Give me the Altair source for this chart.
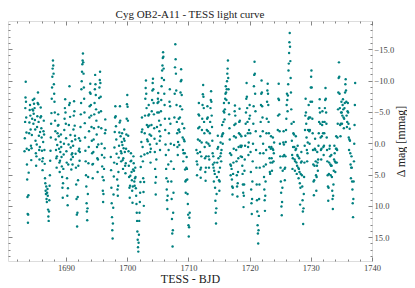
import altair as alt
import pandas as pd

# Delta mag [mmag] vs TESS BJD (sectors 14 and 15)
s14_orbit1 = [
    (1683.20, 1.3), (1683.25, -0.8), (1683.30, -3.4), (1683.33, -5.6), (1683.36, -7.3), (1683.40, -9.8),
    (1683.44, -6.6), (1683.48, -4.1), (1683.52, -1.7), (1683.56, 0.9), (1683.60, 3.4), (1683.64, 5.8),
    (1683.68, 8.6), (1683.72, 11.3), (1683.76, 12.7), (1683.80, 11.4), (1683.84, 8.3), (1683.88, 4.7),
    (1683.92, 1.1), (1683.96, -1.6), (1684.00, -3.3), (1684.05, -5.3), (1684.10, -6.1), (1684.15, -4.4),
    (1684.20, -2.2), (1684.25, 0.4), (1684.30, 2.7), (1684.35, 0.8), (1684.40, -1.3), (1684.45, -3.9),
    (1684.50, -5.4), (1684.55, -6.9), (1684.60, -5.2), (1684.65, -3.1), (1684.70, -4.7), (1684.75, -6.3),
    (1684.80, -7.1), (1684.85, -5.6), (1684.90, -3.7), (1684.95, -2.2), (1685.00, -0.4), (1685.05, 1.6),
    (1685.10, 3.6), (1685.15, 2.1), (1685.20, 0.2), (1685.25, -2.6), (1685.30, -4.3), (1685.35, -6.4),
    (1685.40, -8.1), (1685.45, -6.2), (1685.50, -3.4), (1685.55, -1.2), (1685.60, 1.1), (1685.65, 2.6),
    (1685.70, 0.6), (1685.75, -1.8), (1685.80, -4.1), (1685.85, -5.7), (1685.90, -4.3), (1685.95, -2.4),
    (1686.00, -0.9), (1686.05, 1.2), (1686.10, 2.9), (1686.15, 4.3), (1686.20, 2.4), (1686.25, -0.2),
    (1686.30, -1.9), (1686.35, -3.6), (1686.40, -1.4), (1686.45, 1.1), (1686.50, 3.3), (1686.55, 5.6),
    (1686.60, 6.4), (1686.65, 7.6), (1686.70, 8.1), (1686.75, 6.9), (1686.80, 8.9), (1686.85, 9.4),
    (1686.90, 7.9), (1686.95, 7.3), (1687.00, 8.4), (1687.05, 10.6), (1687.10, 11.7), (1687.15, 12.4),
    (1687.20, 10.9), (1687.25, 9.1), (1687.30, 6.8), (1687.35, 5.1), (1687.40, 2.8), (1687.45, 1.2),
    (1687.50, -0.9), (1687.55, -3.1), (1687.60, -4.8), (1687.65, -7.1), (1687.70, -8.9), (1687.75, -10.6),
    (1687.80, -11.9), (1687.85, -13.2), (1687.90, -12.4), (1687.95, -11.1), (1688.00, -9.4), (1688.05, -7.9),
    (1688.10, -6.6), (1688.15, -4.9), (1688.20, -3.6), (1688.25, -1.9), (1688.30, -0.6), (1688.35, 1.1),
    (1688.40, 2.4), (1688.45, 3.9), (1688.50, 2.1), (1688.55, 0.3), (1688.60, -1.6), (1688.65, -2.8),
    (1688.70, -4.6), (1688.75, -2.9), (1688.80, -1.1), (1688.85, 0.9), (1688.90, 3.1), (1688.95, 4.6),
    (1689.00, 2.8), (1689.05, 1.4), (1689.10, -0.2), (1689.15, -1.4), (1689.20, 0.6), (1689.25, 2.2),
    (1689.30, 3.7), (1689.35, 5.4), (1689.40, 7.1), (1689.45, 8.7), (1689.50, 6.4), (1689.55, 4.1),
    (1689.60, 1.8), (1689.65, 0.1), (1689.70, -2.1), (1689.75, -3.9), (1689.80, -5.6), (1689.85, -7.0),
    (1689.90, -4.9), (1689.95, -3.1), (1690.00, -0.8), (1690.05, 1.3), (1690.10, 3.1), (1690.15, 5.6),
    (1690.20, 8.4), (1690.25, 9.9), (1690.30, 7.2), (1690.35, 3.4), (1690.40, 0.2), (1690.45, -2.9),
    (1690.50, -6.1), (1690.55, -9.1), (1690.60, -6.4), (1690.65, -4.2), (1690.70, -1.3), (1690.75, 0.7),
    (1690.80, 2.6), (1690.85, 4.2), (1690.90, 1.8), (1690.95, -0.3), (1691.00, 1.6), (1691.05, 3.4),
    (1691.10, 2.2), (1691.15, 0.4), (1691.20, -2.2), (1691.25, -4.4), (1691.30, -6.7), (1691.35, -5.1),
    (1691.40, -2.8), (1691.45, -1.2), (1691.50, -0.6), (1691.55, 1.7), (1691.60, 3.9), (1691.65, 6.6),
    (1691.70, 8.9), (1691.75, 11.4), (1691.80, 13.3), (1691.85, 11.1), (1691.90, 8.6), (1691.95, 5.9),
    (1692.00, 3.6), (1692.05, 1.2), (1692.10, -0.8), (1692.15, 0.9), (1692.20, 2.8), (1692.25, 1.4),
    (1692.30, -0.4), (1692.35, -2.6), (1692.40, -4.6), (1692.45, -6.4), (1692.50, -8.6), (1692.55, -9.9),
    (1692.60, -11.4), (1692.65, -12.6), (1692.70, -13.2), (1692.75, -14.3), (1692.80, -12.9), (1692.85, -11.1),
    (1692.90, -8.9), (1692.95, -7.1), (1693.00, -4.9), (1693.05, -3.2), (1693.10, -0.9), (1693.15, 1.2),
    (1693.20, 2.9), (1693.25, 5.1), (1693.30, 6.9), (1693.35, 9.6), (1693.40, 10.9), (1693.45, 12.3),
    (1693.50, 10.4), (1693.55, 8.1), (1693.60, 5.4), (1693.65, 3.2), (1693.70, 0.6), (1693.75, -1.9),
    (1693.80, -4.1), (1693.85, -5.9), (1693.90, -8.1), (1693.95, -9.5), (1694.00, -7.9), (1694.05, -6.1),
    (1694.10, -4.4), (1694.15, -2.6), (1694.20, -0.4), (1694.25, 1.6), (1694.30, 3.4), (1694.35, 5.6),
    (1694.40, 3.3), (1694.45, 1.4), (1694.50, -0.6), (1694.55, -2.4), (1694.60, -4.6), (1694.65, -6.4),
    (1694.70, -8.6), (1694.75, -10.9), (1694.80, -9.4), (1694.85, -7.7), (1694.90, -5.4), (1694.95, -3.6),
    (1695.00, -1.4), (1695.05, 0.6), (1695.10, 2.4), (1695.15, 4.6), (1695.20, 2.6), (1695.25, 0.2),
    (1695.30, -2.6), (1695.35, -4.9), (1695.40, -7.2), (1695.45, -8.9), (1695.50, -10.1), (1695.55, -11.4),
    (1695.60, -9.6), (1695.65, -7.4), (1695.70, -5.1), (1695.75, -2.4), (1695.80, 0.1), (1695.85, 1.9),
    (1695.90, 3.7), (1695.95, 5.4), (1696.00, 7.6), (1696.05, 9.4), (1696.10, 8.1), (1696.15, 5.9),
    (1696.20, 4.1), (1696.25, 2.3), (1696.30, 0.8), (1696.35, -1.6), (1696.40, -3.8), (1696.45, -2.1),
]

s14_orbit2 = [
    (1697.30, 2.2), (1697.35, 4.3), (1697.40, 7.1), (1697.45, 9.6), (1697.50, 11.8), (1697.55, 13.9),
    (1697.60, 15.2), (1697.65, 12.8), (1697.70, 10.3), (1697.75, 8.2), (1697.80, 5.3), (1697.85, 3.1),
    (1697.90, 0.7), (1697.95, -1.8), (1698.00, -4.1), (1698.05, -5.9), (1698.10, -4.3), (1698.15, -2.7),
    (1698.20, -0.6), (1698.25, 1.7), (1698.30, 3.3), (1698.35, 5.8), (1698.40, 7.4), (1698.45, 8.4),
    (1698.50, 6.8), (1698.55, 4.6), (1698.60, 2.3), (1698.65, 0.4), (1698.70, -1.7), (1698.75, -3.3),
    (1698.80, -5.9), (1698.85, -3.6), (1698.90, -1.1), (1698.95, 1.3), (1699.00, 2.9), (1699.05, 1.6),
    (1699.10, -0.2), (1699.15, -1.6), (1699.20, 0.3), (1699.25, 2.7), (1699.30, 4.1), (1699.35, 2.4),
    (1699.40, 0.8), (1699.45, -0.7), (1699.50, -2.2), (1699.55, -0.4), (1699.60, 1.4), (1699.65, 3.6),
    (1699.70, 4.8), (1699.75, 3.2), (1699.80, 0.9), (1699.85, -1.4), (1699.90, -3.9), (1699.95, -6.2),
    (1700.00, -7.7), (1700.05, -5.8), (1700.10, -3.6), (1700.15, -1.2), (1700.20, 1.3), (1700.25, 3.6),
    (1700.30, 5.4), (1700.35, 7.1), (1700.40, 8.7), (1700.45, 6.8), (1700.50, 5.2), (1700.55, 2.9),
    (1700.60, 1.6), (1700.65, 2.8), (1700.70, 4.6), (1700.75, 5.9), (1700.80, 7.6), (1700.85, 9.5),
    (1700.90, 6.9), (1700.95, 4.2), (1701.00, 2.1), (1701.05, 3.2), (1701.10, 4.4), (1701.15, 6.1),
    (1701.20, 6.8), (1701.25, 5.6), (1701.30, 3.9), (1701.35, 5.4), (1701.40, 7.2), (1701.45, 8.4),
    (1701.50, 9.7), (1701.55, 11.1), (1701.60, 12.4), (1701.65, 14.1), (1701.70, 15.4), (1701.75, 16.6),
    (1701.80, 17.3), (1701.85, 15.9), (1701.90, 14.6), (1701.95, 12.4), (1702.00, 11.1), (1702.05, 9.4),
    (1702.10, 7.9), (1702.15, 6.2), (1702.20, 3.8), (1702.25, 2.1), (1702.30, -0.2), (1702.35, -1.8),
    (1702.40, -4.1), (1702.45, -2.2), (1702.50, 0.6), (1702.55, 2.9), (1702.60, 5.6), (1702.65, 7.8),
    (1702.70, 10.0), (1702.75, 6.2), (1702.80, 1.8), (1702.85, -1.6), (1702.90, -4.4), (1702.95, -7.1),
    (1703.00, -8.8), (1703.05, -10.0), (1703.10, -7.9), (1703.15, -5.6), (1703.20, -2.9), (1703.25, -0.6),
    (1703.30, 1.6), (1703.35, -0.3), (1703.40, -2.6), (1703.45, -4.4), (1703.50, -6.1), (1703.55, -4.6),
    (1703.60, -2.8), (1703.65, -1.4), (1703.70, 0.2), (1703.75, 1.4), (1703.80, 3.1), (1703.85, 0.9),
    (1703.90, -1.2), (1703.95, -2.9), (1704.00, -5.1), (1704.05, -6.9), (1704.10, -8.4), (1704.15, -9.6),
    (1704.20, -10.3), (1704.25, -8.6), (1704.30, -6.4), (1704.35, -4.6), (1704.40, -2.4), (1704.45, -0.7),
    (1704.50, 1.4), (1704.55, 4.1), (1704.60, 6.3), (1704.65, 8.2), (1704.70, 5.4), (1704.75, 2.6),
    (1704.80, 0.1), (1704.85, -2.6), (1704.90, -4.9), (1704.95, -6.4), (1705.00, -7.1), (1705.05, -8.0),
    (1705.10, -6.6), (1705.15, -4.9), (1705.20, -3.6), (1705.25, -1.9), (1705.30, -0.4), (1705.35, 1.1),
    (1705.40, -1.1), (1705.45, -2.9), (1705.50, -5.1), (1705.55, -6.9), (1705.60, -9.1), (1705.65, -10.4),
    (1705.70, -11.6), (1705.75, -12.4), (1705.80, -13.6), (1705.85, -14.5), (1705.90, -13.8), (1705.95, -11.9),
    (1706.00, -10.1), (1706.05, -7.9), (1706.10, -6.1), (1706.15, -3.9), (1706.20, -2.1), (1706.25, 0.2),
    (1706.30, 1.9), (1706.35, 4.1), (1706.40, 5.6), (1706.45, 7.4), (1706.50, 9.1), (1706.55, 10.5),
    (1706.60, 8.4), (1706.65, 6.1), (1706.70, 3.4), (1706.75, 1.1), (1706.80, -1.6), (1706.85, -3.9),
    (1706.90, -6.6), (1706.95, -8.6), (1707.00, -5.9), (1707.05, -3.1), (1707.10, 0.1), (1707.15, 2.9),
    (1707.20, 6.1), (1707.25, 8.9), (1707.30, 12.1), (1707.35, 14.4), (1707.40, 16.5), (1707.45, 13.9),
    (1707.50, 11.1), (1707.55, 7.9), (1707.60, 4.1), (1707.65, 0.3), (1707.70, -4.1), (1707.75, -7.9),
    (1707.80, -12.1), (1707.85, -15.8), (1707.90, -13.4), (1707.95, -11.1), (1708.00, -8.4), (1708.05, -6.1),
    (1708.10, -3.4), (1708.15, -1.6), (1708.20, 0.6), (1708.25, 1.9), (1708.30, -0.2), (1708.35, -2.1),
    (1708.40, -3.9), (1708.45, -2.2), (1708.50, 0.3), (1708.55, -1.8), (1708.60, -4.1), (1708.65, -5.9),
    (1708.70, -8.1), (1708.75, -9.9), (1708.80, -11.8), (1708.85, -10.1), (1708.90, -7.7), (1708.95, -5.4),
    (1709.00, -3.1), (1709.05, -0.9), (1709.10, 1.1), (1709.15, 2.9), (1709.20, 1.6), (1709.25, -0.6),
    (1709.30, -2.4), (1709.35, -0.3), (1709.40, 1.6), (1709.45, 4.2), (1709.50, 6.1), (1709.55, 7.9),
    (1709.60, 5.9), (1709.65, 3.9), (1709.70, 2.2), (1709.75, 4.1), (1709.80, 5.8), (1709.85, 8.1),
    (1709.90, 9.7), (1709.95, 11.4), (1710.00, 13.1), (1710.05, 14.9), (1710.10, 13.4), (1710.15, 11.9),
    (1710.20, 11.1),
]

s15_orbit1 = [
    (1711.30, 1.1), (1711.35, 2.9), (1711.40, 5.1), (1711.45, 3.4), (1711.50, 1.6), (1711.55, -0.6),
    (1711.60, -2.4), (1711.65, -4.6), (1711.70, -6.4), (1711.75, -4.4), (1711.80, -2.6), (1711.85, -0.4),
    (1711.90, 1.4), (1711.95, 4.2), (1712.00, 5.5), (1712.05, 3.9), (1712.10, 2.1), (1712.15, -0.1),
    (1712.20, -2.1), (1712.25, -3.9), (1712.30, -6.1), (1712.35, -7.8), (1712.40, -9.3), (1712.45, -7.4),
    (1712.50, -5.6), (1712.55, -3.4), (1712.60, -1.6), (1712.65, 0.6), (1712.70, 2.4), (1712.75, 4.6),
    (1712.80, 6.0), (1712.85, 3.9), (1712.90, 2.1), (1712.95, -0.1), (1713.00, -2.1), (1713.05, -3.9),
    (1713.10, -5.9), (1713.15, -4.1), (1713.20, -1.9), (1713.25, 0.1), (1713.30, 2.1), (1713.35, 3.9),
    (1713.40, 2.6), (1713.45, 0.4), (1713.50, -1.6), (1713.55, -3.4), (1713.60, -5.6), (1713.65, -6.9),
    (1713.70, -8.3), (1713.75, -6.6), (1713.80, -4.4), (1713.85, -2.6), (1713.90, -0.4), (1713.95, 1.6),
    (1714.00, 3.4), (1714.05, 2.1), (1714.10, 3.9), (1714.15, 6.1), (1714.20, 4.4), (1714.25, 3.1),
    (1714.30, 4.9), (1714.35, 7.1), (1714.40, 9.2), (1714.45, 11.1), (1714.50, 12.8), (1714.55, 10.4),
    (1714.60, 8.1), (1714.65, 5.4), (1714.70, 3.1), (1714.75, 0.9), (1714.80, -1.2), (1714.85, 0.6),
    (1714.90, 2.4), (1714.95, 4.6), (1715.00, 5.9), (1715.05, 7.6), (1715.10, 6.1), (1715.15, 3.9),
    (1715.20, 2.1), (1715.25, -0.1), (1715.30, 1.6), (1715.35, 2.9), (1715.40, 1.1), (1715.45, -1.1),
    (1715.50, -2.9), (1715.55, -1.4), (1715.60, 0.1), (1715.65, -1.6), (1715.70, -3.4), (1715.75, -5.1),
    (1715.80, -6.4), (1715.85, -4.9), (1715.90, -3.8), (1715.95, -5.4), (1716.00, -7.1), (1716.05, -7.9),
    (1716.10, -9.1), (1716.15, -8.1), (1716.20, -6.9), (1716.25, -8.6), (1716.30, -9.9), (1716.35, -11.1),
    (1716.40, -11.9), (1716.45, -13.2), (1716.50, -10.4), (1716.55, -8.6), (1716.60, -6.4), (1716.65, -4.6),
    (1716.70, -2.4), (1716.75, -0.6), (1716.80, 1.6), (1716.85, 3.4), (1716.90, 5.1), (1716.95, 3.6),
    (1717.00, 1.9), (1717.05, 4.1), (1717.10, 5.8), (1717.15, 6.9), (1717.20, 8.2), (1717.25, 7.1),
    (1717.30, 4.9), (1717.35, 3.1), (1717.40, 0.9), (1717.45, -1.1), (1717.50, -2.9), (1717.55, -5.1),
    (1717.60, -6.0), (1717.65, -4.4), (1717.70, -3.1), (1717.75, -0.9), (1717.80, 1.1), (1717.85, 2.9),
    (1717.90, 5.1), (1717.95, 6.9), (1718.00, 8.5), (1718.05, 6.4), (1718.10, 4.6), (1718.15, 2.4),
    (1718.20, 0.6), (1718.25, -1.6), (1718.30, -3.4), (1718.35, -5.5), (1718.40, -3.6), (1718.45, -1.4),
    (1718.50, 0.4), (1718.55, 2.1), (1718.60, 0.6), (1718.65, -1.1), (1718.70, 0.4), (1718.75, 2.2),
    (1718.80, 3.6), (1718.85, 4.9), (1718.90, 6.6), (1718.95, 7.9), (1719.00, 10.2), (1719.05, 8.4),
    (1719.10, 6.6), (1719.15, 4.4), (1719.20, 2.6), (1719.25, 0.4), (1719.30, -1.2), (1719.35, -3.1),
    (1719.40, -4.9), (1719.45, -7.1), (1719.50, -9.6), (1719.55, -7.4), (1719.60, -5.6), (1719.65, -3.4),
    (1719.70, -1.6), (1719.75, 0.6), (1719.80, 1.9), (1719.85, -0.1), (1719.90, -2.1), (1719.95, -3.9),
    (1720.00, -6.1), (1720.05, -4.4), (1720.10, -1.6), (1720.15, 1.4), (1720.20, 4.6), (1720.25, 7.4),
    (1720.30, 9.6), (1720.35, 11.3), (1720.40, 8.9), (1720.45, 6.1), (1720.50, 2.9), (1720.55, 0.1),
    (1720.60, -3.1), (1720.65, -5.9), (1720.70, -9.1), (1720.75, -10.9), (1720.80, -13.0), (1720.85, -11.1),
    (1720.90, -7.9), (1720.95, -5.1), (1721.00, -1.9), (1721.05, 1.1), (1721.10, 3.9), (1721.15, 6.6),
    (1721.20, 9.1), (1721.25, 10.9), (1721.30, 13.1), (1721.35, 14.4), (1721.40, 16.0), (1721.45, 13.9),
    (1721.50, 11.6), (1721.55, 8.9), (1721.60, 6.6), (1721.65, 3.9), (1721.70, 1.6), (1721.75, -1.1),
    (1721.80, -3.4), (1721.85, -6.1), (1721.90, -7.9), (1721.95, -10.0), (1722.00, -8.1), (1722.05, -5.9),
    (1722.10, -4.1), (1722.15, -1.9), (1722.20, 0.1), (1722.25, 1.6), (1722.30, 3.7), (1722.35, 5.4),
    (1722.40, 7.4), (1722.45, 9.1), (1722.50, 10.8), (1722.55, 8.4), (1722.60, 6.1), (1722.65, 3.4),
    (1722.70, 1.1), (1722.75, -1.6), (1722.80, -3.9), (1722.85, -6.6), (1722.90, -8.4), (1722.95, -9.5),
    (1723.00, -7.9), (1723.05, -6.1), (1723.10, -3.4), (1723.15, -1.6), (1723.20, 0.6), (1723.25, 2.4),
    (1723.30, 4.6), (1723.35, 4.9), (1723.40, 3.1), (1723.45, 0.9), (1723.50, -1.1), (1723.55, 0.6),
    (1723.60, 2.4), (1723.65, 4.4), (1723.70, 3.1), (1723.75, 0.9), (1723.80, -0.9), (1723.85, 1.1),
    (1723.90, 2.9), (1723.95, 1.6), (1724.00, -0.1),
]

s15_orbit2 = [
    (1724.60, -2.1), (1724.65, -4.4), (1724.70, -7.1), (1724.75, -9.5), (1724.80, -6.9), (1724.85, -4.6),
    (1724.90, -1.9), (1724.95, 0.1), (1725.00, 2.1), (1725.05, 3.9), (1725.10, 6.1), (1725.15, 7.9),
    (1725.20, 10.1), (1725.25, 11.5), (1725.30, 9.4), (1725.35, 7.1), (1725.40, 4.4), (1725.45, 2.1),
    (1725.50, -0.1), (1725.55, -1.9), (1725.60, 0.2), (1725.65, 1.9), (1725.70, 4.1), (1725.75, 5.9),
    (1725.80, 3.9), (1725.85, 2.1), (1725.90, -0.2), (1725.95, -2.1), (1726.00, -3.9), (1726.05, -6.1),
    (1726.10, -7.9), (1726.15, -6.9), (1726.20, -5.1), (1726.25, -7.6), (1726.30, -9.4), (1726.35, -11.6),
    (1726.40, -12.7), (1726.45, -14.4), (1726.50, -16.1), (1726.55, -17.6), (1726.60, -15.4), (1726.65, -13.1),
    (1726.70, -10.4), (1726.75, -8.1), (1726.80, -5.4), (1726.85, -3.1), (1726.90, -0.4), (1726.95, 1.9),
    (1727.00, 4.1), (1727.05, 2.4), (1727.10, 0.6), (1727.15, -1.6), (1727.20, -3.4), (1727.25, -1.4),
    (1727.30, 0.6), (1727.35, 2.6), (1727.40, 4.4), (1727.45, 2.9), (1727.50, 1.1), (1727.55, -1.1),
    (1727.60, 0.9), (1727.65, 3.1), (1727.70, 4.9), (1727.75, 3.6), (1727.80, 1.9), (1727.85, 0.4),
    (1727.90, 2.1), (1727.95, 3.9), (1728.00, 5.6), (1728.05, 4.1), (1728.10, 2.4), (1728.15, 4.6),
    (1728.20, 6.4), (1728.25, 9.8), (1728.30, 7.1), (1728.35, 4.9), (1728.40, 3.1), (1728.45, 1.4),
    (1728.50, 2.9), (1728.55, 5.1), (1728.60, 6.9), (1728.65, 9.1), (1728.70, 10.9), (1728.75, 12.9),
    (1728.80, 10.4), (1728.85, 8.1), (1728.90, 5.4), (1728.95, 3.1), (1729.00, 0.4), (1729.05, -2.1),
    (1729.10, -4.4), (1729.15, -7.1), (1729.20, -4.9), (1729.25, -3.1), (1729.30, -0.9), (1729.35, 1.1),
    (1729.40, 2.9), (1729.45, 1.6), (1729.50, -0.1), (1729.55, -2.1), (1729.60, -3.9), (1729.65, -6.1),
    (1729.70, -4.1), (1729.75, -1.9), (1729.80, 0.1), (1729.85, -2.1), (1729.90, -4.1), (1729.95, -6.6),
    (1730.00, -8.9), (1730.05, -10.6), (1730.10, -11.6), (1730.15, -8.9), (1730.20, -6.6), (1730.25, -3.9),
    (1730.30, -1.6), (1730.35, 1.1), (1730.40, 3.4), (1730.45, 6.1), (1730.50, 8.3), (1730.55, 5.9),
    (1730.60, 3.6), (1730.65, 0.9), (1730.70, -0.7), (1730.75, 1.1), (1730.80, 2.9), (1730.85, 5.1),
    (1730.90, 7.6), (1730.95, 5.4), (1731.00, 3.6), (1731.05, 1.4), (1731.10, 3.1), (1731.15, 4.4),
    (1731.20, 2.6), (1731.25, 0.4), (1731.30, -1.6), (1731.35, -3.4), (1731.40, -5.6), (1731.45, -7.0),
    (1731.50, -4.9), (1731.55, -3.1), (1731.60, -0.9), (1731.65, 1.1), (1731.70, 2.6), (1731.75, 0.9),
    (1731.80, -1.1), (1731.85, -2.9), (1731.90, -5.1), (1731.95, -3.4), (1732.00, -1.6), (1732.05, 0.6),
    (1732.10, 1.9), (1732.15, 0.4), (1732.20, -1.6), (1732.25, -3.4), (1732.30, -5.6), (1732.35, -6.9),
    (1732.40, -8.8), (1732.45, -7.1), (1732.50, -4.9), (1732.55, -3.1), (1732.60, -0.9), (1732.65, 1.1),
    (1732.70, 2.9), (1732.75, 5.1), (1732.80, 6.9), (1732.85, 9.2), (1732.90, 7.1), (1732.95, 4.9),
    (1733.00, 3.1), (1733.05, 0.9), (1733.10, 0.4), (1733.15, 2.1), (1733.20, 3.4), (1733.25, 5.1),
    (1733.30, 3.6), (1733.35, 1.9), (1733.40, 3.6), (1733.45, 5.4), (1733.50, 7.6), (1733.55, 8.9),
    (1733.60, 10.5), (1733.65, 8.4), (1733.70, 6.6), (1733.75, 4.4), (1733.80, 2.6), (1733.85, 0.4),
    (1733.90, 1.6), (1733.95, 2.9), (1734.00, 4.6), (1734.05, 3.1), (1734.10, 0.9), (1734.15, -1.1),
    (1734.20, 0.9), (1734.25, 3.1), (1734.30, 1.1), (1734.35, -0.9), (1734.40, -3.1), (1734.45, -5.4),
    (1734.50, -8.1), (1734.55, -10.4), (1734.60, -12.9), (1734.65, -10.6), (1734.70, -7.9), (1734.75, -5.6),
    (1734.80, -2.9), (1734.85, -1.1), (1734.90, -3.1), (1734.95, -4.9), (1735.00, -6.6), (1735.05, -4.9),
    (1735.10, -3.1), (1735.15, -4.4), (1735.20, -6.1), (1735.25, -7.0), (1735.30, -5.4), (1735.35, -4.1),
    (1735.40, -2.4), (1735.45, -3.9), (1735.50, -5.6), (1735.55, -6.4), (1735.60, -8.1), (1735.65, -9.4),
    (1735.70, -10.2), (1735.75, -8.4), (1735.80, -6.6), (1735.85, -4.4), (1735.90, -2.6), (1735.95, -3.4),
    (1736.00, -5.1), (1736.05, -6.4), (1736.10, -4.9), (1736.15, -3.1), (1736.20, -0.9), (1736.25, 1.1),
    (1736.30, -0.6), (1736.35, -2.3), (1736.40, -0.4), (1736.45, 1.6), (1736.50, 3.4), (1736.55, 5.6),
    (1736.60, 3.9), (1736.65, 2.1), (1736.70, 3.9), (1736.75, 6.1), (1736.80, 7.4), (1736.85, 9.6),
    (1736.90, 11.8), (1736.95, 8.9), (1737.00, 6.1), (1737.05, 2.9), (1737.10, 0.1), (1737.15, -2.9),
    (1737.20, -6.1), (1737.25, -9.6),
]

x_domain = [1680.5, 1740]
y_domain = [-19.5, 18.8]
x_major = [1690, 1700, 1710, 1720, 1730, 1740]
x_minor = [v for v in range(1682, 1740, 2) if v % 10]
y_major = [-15, -10, -5, 0, 5, 10, 15]
y_minor = [v for v in range(-19, 19) if v % 5]

title_text = "Cyg OB2-A11 - TESS light curve"
x_title = "TESS - BJD"
y_title = "Δ mag [mmag]"

df = pd.DataFrame(s14_orbit1 + s14_orbit2 + s15_orbit1 + s15_orbit2, columns=["t", "dmag"])
df_ghost = df.head(1)

FONT = "Liberation Serif"
AX = "#666666"
W, H, TOP = 364, 240, 13
xs = alt.Scale(domain=x_domain, nice=False, zero=False)
ys = alt.Scale(domain=y_domain, reverse=True, nice=False, zero=False)


def axis(orient, values, size, labels=False, **kw):
    return alt.Axis(orient=orient, values=values, tickSize=size, offset=-size, domain=False,
                    grid=False, labels=labels, tickColor=AX, tickWidth=0.8, **kw)


points = alt.Chart(df).mark_circle(size=6, color="#008080", opacity=1).encode(
    x=alt.X("t:Q", scale=xs, title=x_title,
            axis=axis("bottom", x_major, 4, True, format="d", labelFlush=False, labelPadding=2,
                      labelFontSize=8.5, labelFont=FONT, labelColor="#444444",
                      titleFont=FONT, titleFontSize=12, titleFontWeight="normal",
                      titleColor="#222222", titleBaseline="alphabetic", titleY=25)),
    y=alt.Y("dmag:Q", scale=ys, title=y_title,
            axis=axis("right", y_major, 4, True, format=".1f", labelPadding=2,
                      labelFontSize=8.5, labelFont=FONT, labelColor="#444444",
                      titleFont=FONT, titleFontSize=12, titleFontWeight="normal",
                      titleColor="#222222", titleAngle=270, titleAlign="center",
                      titleBaseline="middle", titleX=32)),
)


def ghost(xo, yo, xv, yv, size):
    return alt.Chart(df_ghost).mark_point(opacity=0).encode(
        x=alt.X("t:Q", scale=xs, title=None, axis=axis(xo, xv, size)),
        y=alt.Y("dmag:Q", scale=ys, title=None, axis=axis(yo, yv, size)),
    )


chart = alt.layer(
    points,
    ghost("top", "left", x_major, y_major, 4),
    ghost("bottom", "right", x_minor, y_minor, 2),
    ghost("top", "left", x_minor, y_minor, 2),
).resolve_axis(x="independent", y="independent").properties(
    width=W, height=H,
    title=alt.TitleParams(title_text, font=FONT, fontSize=11, fontWeight="normal",
                          color="#222222", offset=1, anchor="middle"),
    autosize=alt.AutoSizeParams(type="none"),
    padding={"left": 0, "top": TOP, "right": 35, "bottom": 27},
).configure_view(stroke=AX, strokeWidth=0.8).configure(background="white")

chart.save("out.html", embed_options={"renderer": "svg", "actions": False})
